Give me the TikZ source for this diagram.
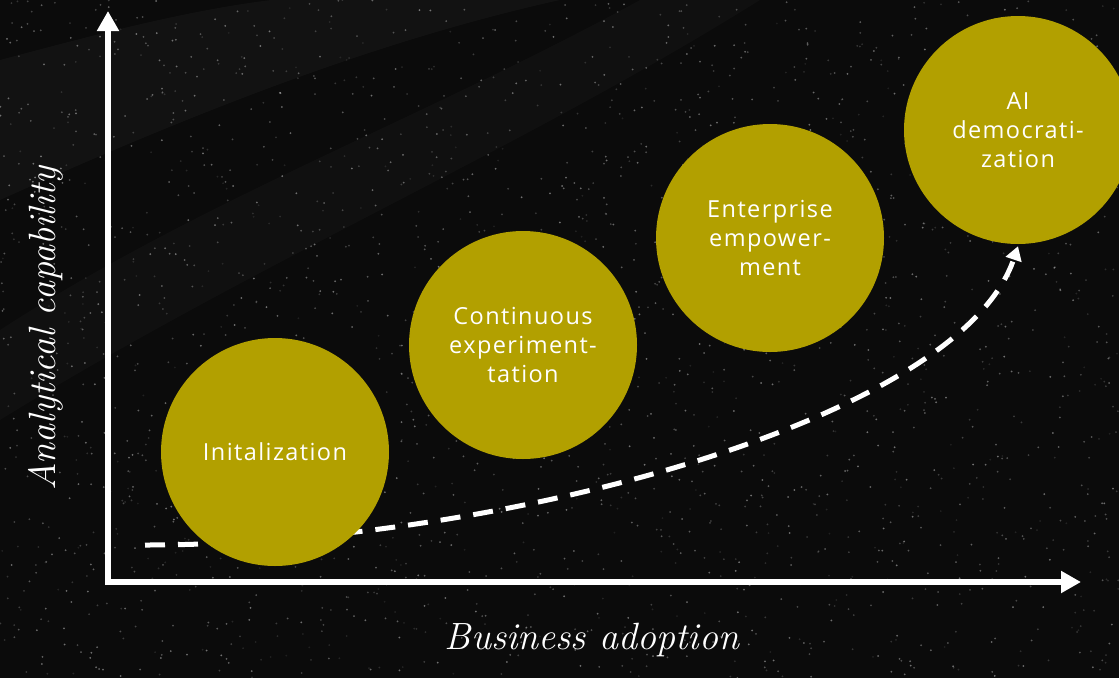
\documentclass[tikz,border=0pt]{standalone}
\usepackage{fontspec}
\usepackage{tikz}
\usetikzlibrary{positioning, calc, arrows.meta}
\newfontfamily\stagefont[LetterSpace=6]{Open Sans}
\definecolor{olivegold}{HTML}{B2A000}
\definecolor{nightsky}{HTML}{0B0B0B}
\pgfdeclarelayer{backdrop}
\pgfdeclarelayer{middle}
\pgfsetlayers{backdrop,middle,main}

\tikzset{
	stage/.style={circle, fill=olivegold, minimum size=228pt, inner sep=0pt, text=white, align=center, font=\stagefont\fontsize{23.5}{29}\selectfont},
	axisline/.style={white, line width=6pt, -{Triangle[width=21pt,length=20pt]}},
	trend/.style={white, line width=5pt, dash pattern=on 20pt off 13pt, -{Triangle[width=16pt,length=14pt]}},
	axislabel/.style={text=white, font=\itshape\fontsize{38}{40}\selectfont}
}

\begin{document}
\begin{tikzpicture}[x=1pt, y=-1pt]
						\clip (0,0) rectangle (1119,678);
						\begin{pgfonlayer}{backdrop}
						\fill[nightsky] (0,0) rectangle (1119,678);
						%% faint swirls in the upper left
						\fill[white, opacity=0.03] (0,60) .. controls (150,20) and (300,-20) .. (420,0) -- (560,0) .. controls (380,40) and (200,110) .. (0,200) -- cycle;
						\fill[white, opacity=0.025] (0,330) .. controls (200,200) and (420,120) .. (640,0) -- (760,0) .. controls (520,150) and (260,260) .. (0,420) -- cycle;
						%% speckles
						\pgfmathsetseed{42}
						\foreach \i in {1,...,2200}{
							\pgfmathsetmacro{\px}{rnd*1119}
							\pgfmathsetmacro{\py}{rnd*678}
							\pgfmathsetmacro{\op}{0.08+rnd*0.35}
							\fill[white, opacity=\op] (\px,\py) circle (1pt);
						}
						\end{pgfonlayer}
						
						%% axes
						\coordinate (origin) at (108,582);
						\coordinate (ytip) at (108,11);
						\coordinate (xtip) at (1081,582);
						\draw[axisline] ($(origin)+(0,3)$) -- (ytip);
						\draw[axisline] ($(origin)+(-3,0)$) -- (xtip);
						
						\node[axislabel] (xlabel) at (592,640) {Business adoption};
						\node[axislabel, rotate=90] (ylabel) at (46,328) {Analytical capability};
						
						%% stages
						\node[stage] (init) at (275,452) {Initalization};
						\node[stage] (exper) at (523,345) {Continuous\\experiment-\\tation};
						\node[stage] (empower) at (770,238) {Enterprise\\empower-\\ment};
						\node[stage] (demo) at (1018,130) {AI\\democrati-\\zation};
						
						%% trend, behind the circles
						\coordinate (start) at (145,545);
						\begin{pgfonlayer}{middle}
						\draw[trend] (start) .. controls (500,545) and (960,420) .. ($(demo.south)+(0,2)$);
						\end{pgfonlayer}
\end{tikzpicture}
\end{document}
